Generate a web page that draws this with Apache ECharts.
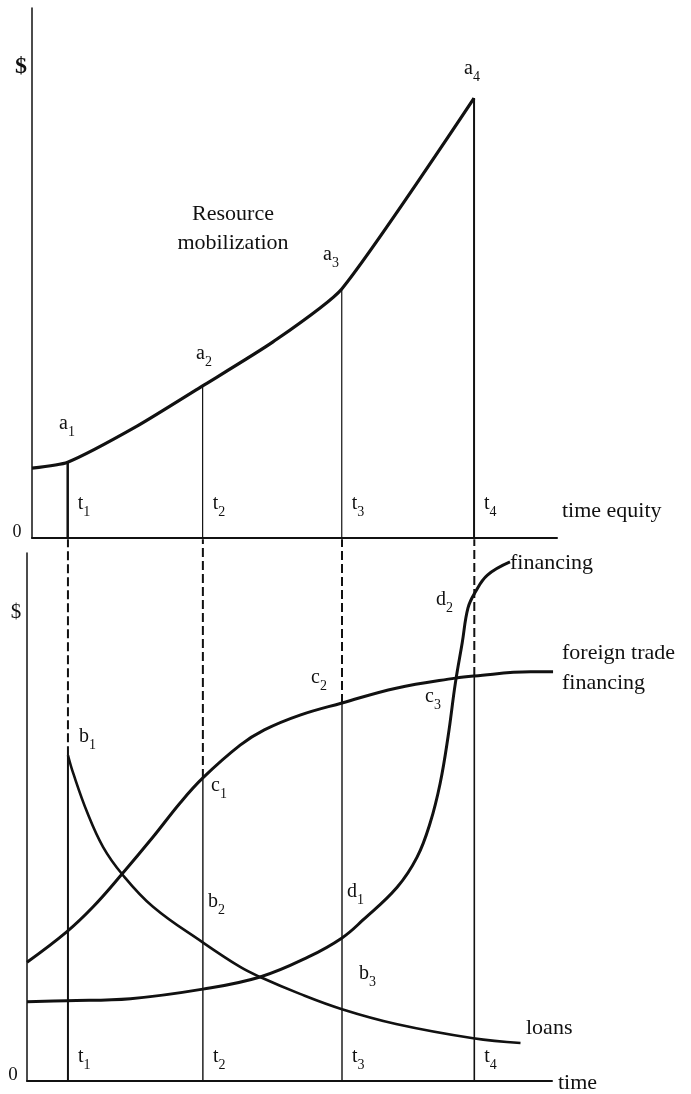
<!DOCTYPE html>
<html>
<head>
<meta charset="utf-8">
<script src="https://cdn.jsdelivr.net/npm/echarts@6/dist/echarts.min.js"></script>
<style>
  html, body { margin: 0; padding: 0; background: #fff; }
  #main { width: 691px; height: 1094px; }
</style>
</head>
<body>
<div id="main"></div>
<script>
// time positions t1..t4 (same scale in both panels)
var tTicks = [6.8, 32.5, 59, 84.2];

// upper panel: resource mobilization curve, a1..a4 levels
var resourceCurve = [[0, 13.2], [6.8, 14.3], [20, 21.1], [32.5, 28.7], [45.9, 37.0], [59, 47.0], [84.2, 83.0]];
var aLevels = [14.3, 28.7, 47.0, 83.0];

// lower panel curves
var loans = [[6.8, 61.7], [7.8, 58.3], [10.5, 50.8], [13.5, 44.3], [17.1, 39.2], [23.0, 33.0], [32.4, 26.3],
    [39.6, 21.6], [43.4, 19.7], [51.0, 16.5], [59.0, 13.6], [69.3, 10.8], [84.0, 8.1], [93.0, 7.2]];
var foreignTrade = [[-1, 22.5], [6.5, 28.2], [11.6, 33.0], [17.1, 39.2], [23.0, 46.2], [28.2, 52.7], [32.5, 57.4],
    [39.6, 63.6], [44.2, 66.5], [51.0, 69.3], [59.0, 71.6], [69.3, 74.4], [80.6, 76.3], [84.2, 76.7], [94.9, 77.5], [99.2, 77.5]];
var financing = [[-1, 15.0], [6.5, 15.2], [18.7, 15.6], [32.5, 17.4], [43.4, 19.7], [52.6, 23.5], [59.0, 27.1],
    [63.0, 30.5], [69.5, 36.7], [73.3, 42.4], [75.8, 48.9], [77.7, 56.4], [79.2, 65.2], [80.6, 75.4],
    [81.9, 83.0], [83.0, 89.6], [84.4, 92.6], [86.7, 95.8], [91.0, 98.3]];
// where the t lines meet the lower curves (b1, c1, c2, c at t4)
var lowerLevels = [61.7, 57.4, 71.6, 76.7];
var dashTop = 102.6;

var ink = '#111';
var serif = 'Liberation Serif';

var myChart = echarts.init(document.getElementById('main'));

function sub(m, n) {
    return '{m|' + m + '}{s|' + n + '}';
}
var subRich = {
    m: { fontFamily: serif, fontSize: 20, lineHeight: 22, verticalAlign: 'top', color: ink },
    s: { fontFamily: serif, fontSize: 14, lineHeight: 14, verticalAlign: 'top', padding: [11, 0, 0, 0], color: ink }
};

function tLabel(v) {
    return sub('t', tTicks.indexOf(v) + 1);
}

// letter labels, position = centre of the main letter
function mark(m, n, cx, cy) {
    return {
        type: 'text', x: cx - 5, y: cy - 13, silent: true,
        style: { text: sub(m, n), rich: subRich, fill: ink }
    };
}
function words(text, x, y, size, extra) {
    var st = { text: text, x: x, y: y, fontFamily: serif, fontSize: size || 22, lineHeight: 30, fill: ink };
    for (var k in extra) st[k] = extra[k];
    return { type: 'text', silent: true, style: st };
}

var series = [];
series.push({
    type: 'line', xAxisIndex: 0, yAxisIndex: 0, data: resourceCurve, showSymbol: false,
    smooth: 0.2, lineStyle: { color: ink, width: 3.2 }
});
var topWidths = [2.5, 1.2, 1.2, 2];
var lowWidths = [2, 1.4, 1.4, 1.6];
tTicks.forEach(function (t, i) {
    series.push({
        type: 'line', xAxisIndex: 0, yAxisIndex: 0, data: [[t, 0], [t, aLevels[i]]], showSymbol: false,
        lineStyle: { color: ink, width: topWidths[i] }
    });
    series.push({
        type: 'line', xAxisIndex: 1, yAxisIndex: 1, data: [[t, 0], [t, lowerLevels[i]]], showSymbol: false,
        lineStyle: { color: ink, width: lowWidths[i] }
    });
    series.push({
        type: 'line', xAxisIndex: 1, yAxisIndex: 1, data: [[t, lowerLevels[i]], [t, dashTop]], showSymbol: false,
        clip: false, lineStyle: { color: ink, width: 2, type: [9, 4] }
    });
});
[[loans, 2.6], [foreignTrade, 3], [financing, 3]].forEach(function (c) {
    series.push({
        type: 'line', xAxisIndex: 1, yAxisIndex: 1, data: c[0], showSymbol: false,
        smooth: 0.4, lineStyle: { color: ink, width: c[1] }
    });
});

function xAxisFor(idx, min, max, margin) {
    return {
        type: 'value', gridIndex: idx, min: min, max: max,
        splitLine: { show: false },
        axisLine: { show: true, onZero: false, lineStyle: { color: ink, width: 2 } },
        axisTick: { show: false },
        axisLabel: {
            show: true, inside: true, customValues: tTicks, formatter: tLabel,
            align: 'left', padding: [0, 0, 0, 10], margin: margin, rich: subRich
        }
    };
}
function yAxisFor(idx) {
    return {
        type: 'value', gridIndex: idx, min: 0, max: 100,
        splitLine: { show: false },
        axisLine: { show: true, onZero: false, lineStyle: { color: ink, width: 1.5 } },
        axisTick: { show: false },
        axisLabel: { show: false }
    };
}

var option = {
    backgroundColor: '#fff',
    animation: false,
    grid: [
        { left: 32, top: 8, width: 525, height: 530 },
        { left: 27, top: 553, width: 525, height: 528 }
    ],
    xAxis: [xAxisFor(0, 0, 100, 22), xAxisFor(1, -1, 99, 12)],
    yAxis: [yAxisFor(0), yAxisFor(1)],
    series: series,
    graphic: [
        mark('a', 1, 64, 427),
        mark('a', 2, 201, 357),
        mark('a', 3, 328, 258),
        mark('a', 4, 469, 72),
        mark('b', 1, 84, 740),
        mark('c', 1, 216, 789),
        mark('b', 2, 213, 905),
        mark('c', 2, 316, 681),
        mark('c', 3, 430, 700),
        mark('d', 2, 441, 603),
        mark('d', 1, 352, 895),
        mark('b', 3, 364, 977),
        words('Resource\nmobilization', 233, 200, 22, { align: 'center', lineHeight: 29 }),
        words('time equity', 562, 496, 22),
        words('financing', 510, 548, 22),
        words('foreign trade\nfinancing', 562, 638, 22),
        words('loans', 526, 1013, 22),
        words('time', 558, 1068, 22),
        words('$', 21, 67, 24, { align: 'center', verticalAlign: 'middle', fontWeight: 'bold' }),
        words('$', 16, 612, 21, { align: 'center', verticalAlign: 'middle' }),
        words('0', 17, 532, 18, { align: 'center', verticalAlign: 'middle' }),
        words('0', 13, 1075, 19, { align: 'center', verticalAlign: 'middle' })
    ]
};

myChart.setOption(option);
</script>
</body>
</html>
